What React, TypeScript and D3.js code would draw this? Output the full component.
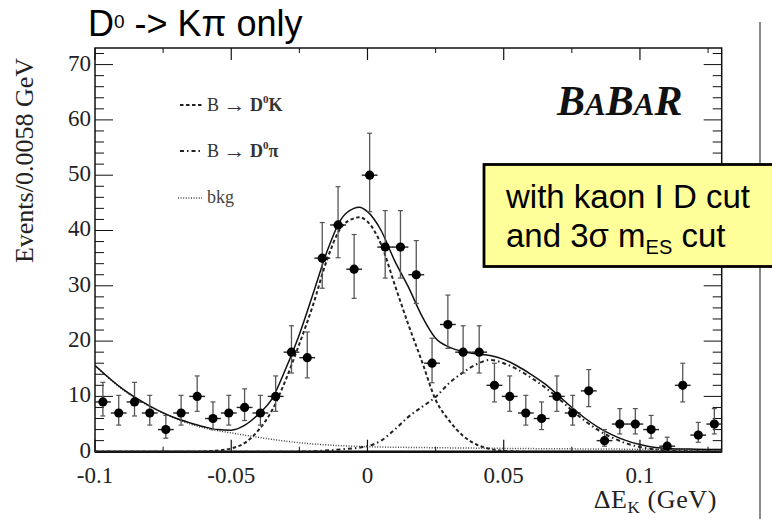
import React from 'react';
import * as d3 from 'd3';

// measured bins (bin width 0.0058 GeV)
const binCenters = [
  -0.0971, -0.0913, -0.0855, -0.0799, -0.0740, -0.0684, -0.0625, -0.0567, -0.0509, -0.0451,
  -0.0393, -0.0337, -0.0279, -0.0221, -0.0166, -0.0108, -0.0049, 0.0008, 0.0065, 0.0121,
  0.0179, 0.0237, 0.0295, 0.0351, 0.0410, 0.0466, 0.0522, 0.0581, 0.0639, 0.0695,
  0.0753, 0.0812, 0.0870, 0.0926, 0.0983, 0.1041, 0.1100, 0.1157, 0.1214, 0.1273,
];
const counts = [
  9, 7, 9, 7, 4, 7, 10, 6, 7, 8,
  7, 10, 18, 17, 35, 41, 33, 50, 37, 37,
  32, 16, 23, 18, 18, 12, 10, 7, 6, 10,
  7, 11, 2, 5, 5, 4, 1, 12, 3, 5,
];
const errLow = [
  2.54, 2.19, 2.54, 2.19, 1.56, 2.19, 2.7, 2.0, 2.19, 2.37,
  2.19, 2.7, 3.77, 3.65, 5.44, 5.92, 5.27, 6.59, 5.6, 5.6,
  5.18, 3.53, 4.32, 3.77, 3.77, 3.0, 2.7, 2.19, 2.0, 2.7,
  2.19, 2.85, 1.0, 1.79, 1.79, 1.56, 0.62, 3.0, 1.3, 1.79,
];
const errHigh = [
  3.54, 3.19, 3.54, 3.19, 2.56, 3.19, 3.7, 3.0, 3.19, 3.37,
  3.19, 3.7, 4.77, 4.65, 6.44, 6.92, 6.27, 7.59, 6.6, 6.6,
  6.18, 4.53, 5.32, 4.77, 4.77, 4.0, 3.7, 3.19, 3.0, 3.7,
  3.19, 3.85, 2.0, 2.79, 2.79, 2.56, 1.62, 4.0, 2.3, 2.79,
];
const binHalfWidth = 0.0029;

// fit curves
const totalX = [
  -0.1, -0.09, -0.08, -0.07, -0.065, -0.06, -0.055, -0.05, -0.045, -0.04,
  -0.035, -0.03, -0.025, -0.02, -0.015, -0.01, -0.005, -0.003, 0, 0.005,
  0.01, 0.015, 0.02, 0.025, 0.03, 0.035, 0.04, 0.045, 0.05, 0.055,
  0.06, 0.065, 0.07, 0.075, 0.08, 0.085, 0.09, 0.095, 0.1, 0.105,
  0.11, 0.12, 0.13,
];
const totalY = [
  15.6, 11.4, 8.3, 6.0, 5.2, 4.5, 4.0, 3.9, 4.8, 6.8,
  9.6, 15, 21.2, 28.5, 36, 41.8, 44, 44.2, 43.4, 40,
  34.5, 29.8, 24.5, 20.5, 18.9, 18.1, 17.7, 17.4, 16.7, 15.5,
  14, 12.3, 10.2, 8.0, 6.0, 4.3, 3.0, 2.0, 1.3, 0.8,
  0.6, 0.45, 0.4,
];
const d0kX = [
  -0.1, -0.065, -0.06, -0.055, -0.05, -0.045, -0.04, -0.035, -0.03, -0.025,
  -0.02, -0.015, -0.01, -0.005, -0.003, 0, 0.005, 0.01, 0.015, 0.02,
  0.025, 0.03, 0.035, 0.04, 0.045, 0.05, 0.06, 0.13,
];
const d0kY = [
  0, 0, 0.05, 0.2, 0.6, 1.6, 3.9, 7.5, 13, 19.5,
  26.5, 34.5, 40.3, 42.2, 42.4, 41.6, 37.5, 30.2, 23, 16.3,
  9.4, 5.6, 2.9, 1.3, 0.5, 0.15, 0, 0,
];
const d0piX = [
  -0.1, -0.03, -0.02, -0.01, 0, 0.005, 0.01, 0.015, 0.02, 0.025,
  0.03, 0.035, 0.04, 0.045, 0.05, 0.055, 0.06, 0.065, 0.07, 0.075,
  0.08, 0.085, 0.09, 0.095, 0.1, 0.105, 0.11, 0.12, 0.13,
];
const d0piY = [
  0, 0, 0.1, 0.4, 1.0, 2.0, 4.0, 6.3, 8.1, 9.9,
  12.4, 14.3, 15.8, 16.6, 16.0, 14.9, 13.4, 11.7, 9.7, 7.5,
  5.5, 3.8, 2.5, 1.5, 0.85, 0.45, 0.2, 0.05, 0,
];
const bkgX = [-0.1, -0.09, -0.08, -0.07, -0.06, -0.05, -0.04, -0.03, -0.02, -0.01, 0, 0.02, 0.05, 0.08, 0.1, 0.13];
const bkgY = [15.6, 11.3, 8.2, 5.9, 4.3, 3.4, 2.6, 1.9, 1.4, 1.1, 0.9, 0.75, 0.6, 0.5, 0.45, 0.4];

const xTickValues = [-0.1, -0.05, 0, 0.05, 0.1];
const xTickLabels = ['-0.1', '-0.05', '0', '0.05', '0.1'];
const xMinorTicks = [-0.075, -0.025, 0.025, 0.075, 0.125];
const yTickValues = [0, 10, 20, 30, 40, 50, 60, 70];
const yTickLabels = ['0', '10', '20', '30', '40', '50', '60', '70'];

const W = 772;
const H = 519;
const serif = '"Liberation Serif", "DejaVu Serif", serif';
const sans = '"Liberation Sans", Arial, sans-serif';

export default function App() {
  const margin = { top: 48, right: 50.3, bottom: 67.3, left: 95 };
  const x = d3.scaleLinear().domain([-0.1, 0.13]).range([margin.left, W - margin.right]);
  const y = d3.scaleLinear().domain([0, 73]).range([H - margin.bottom, margin.top]);
  const [x0, x1] = x.range();
  const [y0, y1] = y.range();

  const path = (xs: number[], ys: number[]) =>
    d3.line<number>()
      .x(d => x(d))
      .y((_, i) => y(ys[i]))
      .curve(d3.curveMonotoneX)(xs) || '';

  const yMinor = d3.range(0, 73, 2);

  const styles = {
    total: { stroke: '#111', strokeWidth: 1.5, dash: undefined as string | undefined },
    d0k: { stroke: '#222', strokeWidth: 2, dash: '3.5 2.5' },
    d0pi: { stroke: '#222', strokeWidth: 2, dash: '4 3 1.5 3' },
    bkg: { stroke: '#444', strokeWidth: 1.5, dash: '1 1.6' },
  };

  const legend = [
    { key: 'd0k', label: 'K', ly: 105 },
    { key: 'd0pi', label: 'π', ly: 151 },
  ];

  return (
    <svg width={W} height={H} style={{ position: 'absolute', left: 0, top: 0, background: '#fff' }}>
      <defs>
        <clipPath id="plot-area">
          <rect x={x0} y={y1} width={x1 - x0} height={y0 - y1} />
        </clipPath>
      </defs>

      {/* title */}
      <text x={88} y={36} fontFamily={sans} fontSize={36} fill="#000">
        D<tspan fontSize={19} dy={-8}>0</tspan>
        <tspan dy={8}> {'->'} Kπ only</tspan>
      </text>

      {/* gray divider */}
      <line x1={760} x2={760} y1={22} y2={H} stroke="#8a8a8a" strokeWidth={2} />

      {/* frame */}
      <rect x={x0} y={y1} width={x1 - x0} height={y0 - y1} fill="none" stroke="#111" strokeWidth={1.5} />
      <line x1={x0} x2={x1} y1={y0} y2={y0} stroke="#111" strokeWidth={2.5} />

      {/* x ticks */}
      {xTickValues.map(v => (
        <g key={'xt' + v}>
          <line x1={x(v)} x2={x(v)} y1={y0} y2={y0 - 12} stroke="#111" strokeWidth={1.2} />
          <line x1={x(v)} x2={x(v)} y1={y1} y2={y1 + 12} stroke="#111" strokeWidth={1.2} />
        </g>
      ))}
      {xMinorTicks.map(v => (
        <g key={'xm' + v}>
          <line x1={x(v)} x2={x(v)} y1={y0} y2={y0 - 5} stroke="#111" strokeWidth={1} />
          <line x1={x(v)} x2={x(v)} y1={y1} y2={y1 + 5} stroke="#111" strokeWidth={1} />
        </g>
      ))}
      {xTickValues.map((v, i) => (
        <text key={'xl' + v} x={x(v)} y={y0 + 31} textAnchor="middle" fontFamily={serif} fontSize={23} fill="#222">
          {xTickLabels[i]}
        </text>
      ))}

      {/* y ticks */}
      {yMinor.map(v => {
        const major = v % 10 === 0;
        const len = major ? 18 : 9;
        return (
          <g key={'ym' + v}>
            <line x1={x0} x2={x0 + len} y1={y(v)} y2={y(v)} stroke="#111" strokeWidth={1} />
            <line x1={x1} x2={x1 - len} y1={y(v)} y2={y(v)} stroke="#111" strokeWidth={1} />
          </g>
        );
      })}
      {yTickValues.map((v, i) => (
        <text key={'yl' + v} x={x0 - 4} y={y(v) + 6} textAnchor="end" fontFamily={serif} fontSize={23} fill="#222">
          {yTickLabels[i]}
        </text>
      ))}

      {/* axis titles */}
      <text transform="translate(33,58) rotate(-90)" textAnchor="end" fontFamily={serif} fontSize={26} fill="#222">
        Events/0.0058 GeV
      </text>
      <text x={717} y={508} textAnchor="end" fontFamily={serif} fontSize={26} letterSpacing={0.6} fill="#222">
        ΔE<tspan fontSize={17} dy={5}>K</tspan>
        <tspan dy={-5}> (GeV)</tspan>
      </text>

      {/* BaBar */}
      <text x={557} y={115} fontFamily={serif} fontWeight="bold" fontStyle="italic" fontSize={42} fill="#111">
        B<tspan fontSize={31}>A</tspan>B<tspan fontSize={31}>A</tspan>R
      </text>

      {/* legend */}
      {legend.map(l => {
        const s = styles[l.key as 'd0k' | 'd0pi'];
        return (
          <g key={l.key}>
            <line x1={180} x2={202} y1={l.ly} y2={l.ly} stroke={s.stroke} strokeWidth={s.strokeWidth} strokeDasharray={s.dash} />
            <text x={207} y={l.ly + 6} fontFamily={serif} fontSize={18} fill="#333">
              B <tspan fontSize={22} dy={1}>→</tspan> <tspan fontWeight="bold" dy={-1}>D</tspan>
              <tspan fontSize={11} dy={-8} fontWeight="bold">0</tspan>
              <tspan dy={8} fontWeight="bold">{l.label}</tspan>
            </text>
          </g>
        );
      })}
      <line x1={178} x2={202} y1={198} y2={198} stroke={styles.bkg.stroke} strokeWidth={styles.bkg.strokeWidth} strokeDasharray={styles.bkg.dash} />
      <text x={207} y={203} fontFamily={serif} fontSize={18} fill="#444">bkg</text>

      {/* curves */}
      <g clipPath="url(#plot-area)" fill="none">
        <path d={path(bkgX, bkgY)} stroke={styles.bkg.stroke} strokeWidth={styles.bkg.strokeWidth} strokeDasharray={styles.bkg.dash} />
        <path d={path(d0piX, d0piY)} stroke={styles.d0pi.stroke} strokeWidth={styles.d0pi.strokeWidth} strokeDasharray={styles.d0pi.dash} />
        <path d={path(d0kX, d0kY)} stroke={styles.d0k.stroke} strokeWidth={styles.d0k.strokeWidth} strokeDasharray={styles.d0k.dash} />
        <path d={path(totalX, totalY)} stroke={styles.total.stroke} strokeWidth={styles.total.strokeWidth} />
      </g>

      {/* data points */}
      <g>
        {binCenters.map((c, i) => {
          const cx = x(c);
          const cy = y(counts[i]);
          const top = y(counts[i] + errHigh[i]);
          const bot = y(Math.max(0, counts[i] - errLow[i]));
          return (
            <g key={'p' + i}>
              <line x1={cx} x2={cx} y1={top} y2={bot} stroke="#555" strokeWidth={1.3} />
              <line x1={cx - 2.5} x2={cx + 2.5} y1={top} y2={top} stroke="#555" strokeWidth={1.2} />
              <line x1={cx - 2.5} x2={cx + 2.5} y1={bot} y2={bot} stroke="#555" strokeWidth={1.2} />
              <line x1={x(c - binHalfWidth)} x2={x(c + binHalfWidth)} y1={cy} y2={cy} stroke="#222" strokeWidth={1.4} />
              <circle cx={cx} cy={cy} r={4.6} fill="#000" />
            </g>
          );
        })}
      </g>

      {/* annotation box */}
      <rect x={484} y={164.5} width={300} height={102} fill="#ffff99" stroke="#000" strokeWidth={2.8} />
      <text x={506} y={208} fontFamily={sans} fontSize={33} fill="#000">with kaon I D cut</text>
      <text x={506} y={246.5} fontFamily={sans} fontSize={33} fill="#000">
        and 3σ m<tspan fontSize={20} dy={7}>ES</tspan>
        <tspan dy={-7}> cut</tspan>
      </text>
    </svg>
  );
}
